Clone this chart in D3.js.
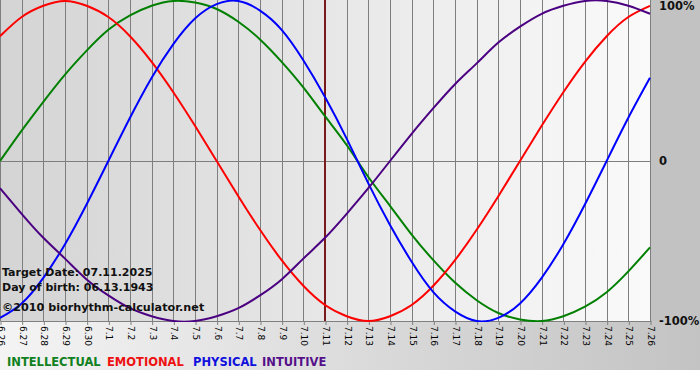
<!DOCTYPE html>
<html><head><meta charset="utf-8">
<script src="https://cdn.jsdelivr.net/npm/d3@7"></script>
<style>html,body{margin:0;padding:0;background:#fff;}svg{display:block;}</style>
</head><body>
<svg id="chart" width="700" height="380"></svg>
<script>
// ---- data ----
const days = ["6.26","6.27","6.28","6.29","6.30","7.1","7.2","7.3","7.4","7.5","7.6","7.7","7.8","7.9","7.10","7.11","7.12","7.13","7.14","7.15","7.16","7.17","7.18","7.19","7.20","7.21","7.22","7.23","7.24","7.25","7.26"];
const intellectual = [0,0.19,0.37,0.54,0.69,0.82,0.91,0.97,1.0,0.99,0.95,0.87,0.76,0.62,0.46,0.28,0.10,-0.10,-0.28,-0.46,-0.62,-0.76,-0.87,-0.95,-0.99,-1.0,-0.97,-0.91,-0.82,-0.69,-0.54];
const emotional = [0.78,0.90,0.97,1.0,0.97,0.90,0.78,0.62,0.43,0.22,0,-0.22,-0.43,-0.62,-0.78,-0.90,-0.97,-1.0,-0.97,-0.90,-0.78,-0.62,-0.43,-0.22,0,0.22,0.43,0.62,0.78,0.90,0.97];
const physical = [-0.98,-0.89,-0.73,-0.52,-0.27,0,0.27,0.52,0.73,0.89,0.98,1.0,0.94,0.82,0.63,0.40,0.14,-0.14,-0.40,-0.63,-0.82,-0.94,-1.0,-0.98,-0.89,-0.73,-0.52,-0.27,0,0.27,0.52];
const intuitive = [-0.17,-0.33,-0.48,-0.61,-0.74,-0.84,-0.92,-0.97,-1.0,-1.0,-0.97,-0.92,-0.84,-0.74,-0.61,-0.48,-0.33,-0.17,0,0.17,0.33,0.48,0.61,0.74,0.84,0.92,0.97,1.0,1.0,0.97,0.92];
const seriesNames = ["INTELLECTUAL","EMOTIONAL","PHYSICAL","INTUITIVE"];
const seriesColors = ["#008000","#ff0000","#0000ff","#4b0082"];
const legendColors = ["#108020","#ee1111","#1010dd","#55108a"];
const yTickValues = [1,0,-1];
const yTickLabels = ["100%","0","-100%"];
const targetDay = "7.11";
const infoLines = ["Target Date: 07.11.2025","Day of birth: 06.13.1943"];
const copyright = "\u00a92010 biorhythm-calculator.net";

// ---- layout ----
const svg = d3.select("#chart");
const W = 700, H = 380;
const plotL = 0, plotR = 651, plotT = 0, plotB = 321;
const defs = svg.append("defs");
function grad(id, c1, c2){
  const g = defs.append("linearGradient").attr("id", id).attr("x1","0").attr("x2","1").attr("y1","0").attr("y2","0");
  g.append("stop").attr("offset","0").attr("stop-color", c1);
  g.append("stop").attr("offset","1").attr("stop-color", c2);
}
grad("plotBg", "#d4d4d4", "#fafafa");
grad("bottomBg", "#f4f4f4", "#c3c3c3");
defs.append("clipPath").attr("id","plotClip").append("rect")
  .attr("x", plotL).attr("y", plotT - 2).attr("width", plotR - plotL + 1).attr("height", plotB - plotT + 3);

svg.append("rect").attr("x",0).attr("y",0).attr("width",W).attr("height",H).attr("fill","#fff");
svg.append("rect").attr("x",0).attr("y",plotB).attr("width",W).attr("height",370 - plotB).attr("fill","url(#bottomBg)");
svg.append("rect").attr("x",plotR).attr("y",0).attr("width",W - plotR).attr("height",plotB).attr("fill","#c2c2c2");
svg.append("rect").attr("x",plotL).attr("y",plotT).attr("width",plotR - plotL).attr("height",plotB - plotT).attr("fill","url(#plotBg)");

const x = d3.scalePoint().domain(days).range([0, 650]);
const y = d3.scaleLinear().domain([-1, 1]).range([plotB, 1]);

// vertical gridlines
svg.append("g").selectAll("line").data(days).join("line")
  .attr("x1", d => Math.round(x(d)) + 0.5).attr("x2", d => Math.round(x(d)) + 0.5)
  .attr("y1", plotT).attr("y2", plotB)
  .attr("stroke", "#7e7e7e").attr("stroke-width", 1);

// zero line
svg.append("line").attr("x1", plotL).attr("x2", plotR).attr("y1", Math.round(y(0)) + 0.5).attr("y2", Math.round(y(0)) + 0.5)
  .attr("stroke", "#7e7e7e").attr("stroke-width", 1);

// bottom axis
const xAxis = d3.axisBottom(x).tickSize(4).tickSizeOuter(0);
const gx = svg.append("g").attr("transform", `translate(0.5,${plotB})`).call(xAxis);
gx.select(".domain").attr("stroke", "#808080").attr("d", `M0,0.5H${plotR}`);
gx.selectAll(".tick line").attr("stroke", "#808080");
gx.selectAll(".tick text")
  .attr("font-family", "DejaVu Sans, Verdana, sans-serif").attr("font-size", "9px").attr("fill", "#000")
  .attr("text-anchor", "start").attr("transform", "rotate(90)")
  .attr("x", 5).attr("y", 0).attr("dy", "0.35em");

// target date line
svg.append("line").attr("x1", x(targetDay)).attr("x2", x(targetDay)).attr("y1", plotT).attr("y2", plotB)
  .attr("stroke", "#7a1a1a").attr("stroke-width", 2);

// curves
const line = d3.line().x((d, i) => x(days[i])).y(d => y(d)).curve(d3.curveNatural);
const allSeries = [intellectual, emotional, physical, intuitive];
const curves = svg.append("g").attr("clip-path", "url(#plotClip)");
allSeries.forEach((s, i) => {
  curves.append("path").datum(s).attr("d", line).attr("fill", "none")
    .attr("stroke", seriesColors[i]).attr("stroke-width", 2);
});

// right axis
const yAxis = d3.axisRight(y).tickValues(yTickValues).tickSize(0).tickFormat((d, i) => yTickLabels[i]);
const gy = svg.append("g").attr("transform", `translate(${plotR + 8},0)`).call(yAxis);
gy.select(".domain").remove();
gy.selectAll(".tick text").attr("x", 0)
  .attr("font-family", "DejaVu Sans, Verdana, sans-serif").attr("font-weight", "bold").attr("font-size", "11.5px").attr("fill", "#111");
gy.selectAll(".tick").filter(d => d === 1).select("text").attr("dy", "0.75em");

// info text
const txt = svg.append("g").attr("font-family", "DejaVu Sans, Verdana, sans-serif").attr("font-weight", "bold").attr("fill", "#111");
txt.selectAll("text.info").data(infoLines).join("text").attr("class", "info")
  .attr("x", 2).attr("y", (d, i) => 276 + i * 15).attr("font-size", "11px").text(d => d);
txt.append("text").attr("x", 2).attr("y", 311).attr("font-size", "11.2px").text(copyright);

// legend
const legendX = [7, 107, 193, 262];
const leg = svg.append("g").attr("font-family", "DejaVu Sans, Verdana, sans-serif").attr("font-weight", "bold").attr("font-size", "11.5px");
seriesNames.forEach((n, i) => {
  leg.append("text").attr("x", legendX[i]).attr("y", 366).attr("fill", legendColors[i]).text(n);
});
</script>
</body></html>
